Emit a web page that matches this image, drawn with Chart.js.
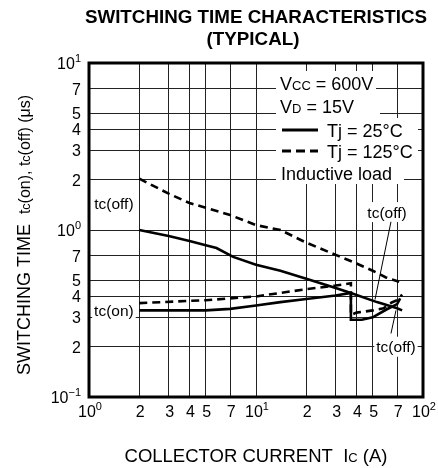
<!DOCTYPE html>
<html><head><meta charset="utf-8">
<script src="https://cdn.jsdelivr.net/npm/chart.js@4.4.1/dist/chart.umd.min.js"></script>
<style>html,body{margin:0;padding:0;background:#fff;}#wrap{width:438px;height:468px;}</style>
</head><body><div id="wrap"><canvas id="c" width="438" height="468"></canvas></div>
<script>
const FONT = '"Liberation Sans", Arial, Helvetica, sans-serif';

// Axis ticks
const xTicks = [1, 2, 3, 4, 5, 7, 10, 20, 30, 40, 50, 70, 100];
const xTickLabels = ['10^0', '2', '3', '4', '5', '7', '10^1', '2', '3', '4', '5', '7', '10^2'];
const yTicks = [0.1, 0.2, 0.3, 0.4, 0.5, 0.7, 1, 2, 3, 4, 5, 7, 10];
const yTickLabels = ['10^\u22121', '2', '3', '4', '5', '7', '10^0', '2', '3', '4', '5', '7', '10^1'];

// tc(off), Tj = 25°C (solid)
const offCurrent25 = [2, 3, 4, 5, 5.8, 7.3, 10, 14, 20, 30, 37, 53, 70, 75];
const offTime25 = [1.0, 0.92, 0.86, 0.81, 0.78, 0.69, 0.62, 0.57, 0.51, 0.45, 0.42, 0.37, 0.34, 0.33];
// tc(off), Tj = 125°C (dashed)
const offCurrent125 = [2, 3, 4, 5, 7, 10, 14, 20, 30, 40, 50, 60, 72];
const offTime125 = [2.03, 1.65, 1.45, 1.36, 1.23, 1.07, 1.0, 0.84, 0.71, 0.63, 0.57, 0.52, 0.49];
// tc(on), Tj = 25°C (solid)
const onCurrent25 = [2, 3, 5, 7, 10, 14, 20, 30, 37, 37, 43, 50, 60, 70, 73];
const onTime25 = [0.33, 0.33, 0.33, 0.337, 0.353, 0.37, 0.386, 0.405, 0.42, 0.29, 0.29, 0.30, 0.333, 0.36, 0.39];
// tc(on), Tj = 125°C (dashed)
const onCurrent125 = [2, 5, 10, 14, 20, 30, 37, 37, 40, 50, 58, 65, 70, 75];
const onTime125 = [0.365, 0.38, 0.40, 0.42, 0.442, 0.465, 0.48, 0.31, 0.32, 0.33, 0.34, 0.368, 0.38, 0.41];

// Curve annotations (data units)
const curveLabels = [
  {text: 'tc(off)', x: 1.41, y: 1.45},
  {text: 'tc(on)', x: 1.41, y: 0.33},
  {text: 'tc(off)', x: 60.9, y: 1.28},
  {text: 'tc(off)', x: 68.9, y: 0.20}
];
const leaderLines = [
  {x1: 64.3, y1: 1.12, x2: 51.6, y2: 0.383},
  {x1: 64.3, y1: 0.24, x2: 68.9, y2: 0.33}
];

function pts(xs, ys) { return xs.map((x, i) => ({x: x, y: ys[i]})); }

function setFont(ctx, size, weight) { ctx.font = (weight || 'normal') + ' ' + size + 'px ' + FONT; }
// parts: [text, size, dy, weight]
function drawParts(ctx, parts, x, y, align) {
  let total = 0;
  const ws = parts.map(p => { setFont(ctx, p[1], p[3]); const w = ctx.measureText(p[0]).width; total += w; return w; });
  let cx = align === 'center' ? x - total / 2 : (align === 'right' ? x - total : x);
  ctx.textAlign = 'left';
  ctx.textBaseline = 'alphabetic';
  parts.forEach((p, i) => { setFont(ctx, p[1], p[3]); ctx.fillText(p[0], cx, y + (p[2] || 0)); cx += ws[i]; });
  return total;
}
function labelParts(lbl, size, supSize) {
  if (lbl.indexOf('^') >= 0) {
    const [b, e] = lbl.split('^');
    return [[b, size, 0], [e, supSize, -7]];
  }
  return [[lbl, size, 0]];
}

const decor = {
  id: 'decor',
  afterDatasetsDraw(chart) {
    const ctx = chart.ctx, xs = chart.scales.x, ys = chart.scales.y;
    ctx.save();
    // legend blocks with white backgrounds
    const boxes = [[276, 71, 100, 24], [276, 95, 104, 23], [276, 118, 142, 23], [276, 141, 142, 21], [276, 162, 128, 22]];
    ctx.fillStyle = '#fff';
    boxes.forEach(b => ctx.fillRect(b[0], b[1], b[2], b[3]));
    ctx.fillStyle = '#000';
    drawParts(ctx, [['V', 18], ['CC', 13], [' = 600V', 18]], 280, 89.5, 'left');
    drawParts(ctx, [['V', 18], ['D', 13], [' = 15V', 18]], 280, 112.5, 'left');
    ctx.strokeStyle = '#000';
    ctx.lineWidth = 3;
    ctx.beginPath(); ctx.moveTo(282, 130); ctx.lineTo(318, 130); ctx.stroke();
    ctx.setLineDash([9, 5]);
    ctx.beginPath(); ctx.moveTo(282, 151); ctx.lineTo(318, 151); ctx.stroke();
    ctx.setLineDash([]);
    drawParts(ctx, [['Tj = 25\u00B0C', 18]], 327, 136.5, 'left');
    drawParts(ctx, [['Tj = 125\u00B0C', 18]], 327, 157.5, 'left');
    drawParts(ctx, [['Inductive load', 18]], 281, 179.5, 'left');

    // curve labels
    curveLabels.forEach(l => {
      const px = xs.getPixelForValue(l.x), py = ys.getPixelForValue(l.y);
      setFont(ctx, 15.5);
      const w = ctx.measureText(l.text).width;
      ctx.fillStyle = '#fff';
      ctx.fillRect(px - w / 2 - 2, py - 10, w + 4, 20);
      ctx.fillStyle = '#000';
      drawParts(ctx, [[l.text, 15.5]], px, py + 5.5, 'center');
    });
    ctx.strokeStyle = '#000';
    ctx.lineWidth = 1;
    leaderLines.forEach(a => {
      ctx.beginPath();
      ctx.moveTo(xs.getPixelForValue(a.x1), ys.getPixelForValue(a.y1));
      ctx.lineTo(xs.getPixelForValue(a.x2), ys.getPixelForValue(a.y2));
      ctx.stroke();
    });
    ctx.restore();
  },
  afterDraw(chart) {
    const ctx = chart.ctx, a = chart.chartArea, xs = chart.scales.x, ys = chart.scales.y;
    ctx.save();
    ctx.strokeStyle = '#000';
    ctx.lineWidth = 3;
    ctx.strokeRect(a.left, a.top, a.right - a.left, a.bottom - a.top);
    ctx.fillStyle = '#000';
    // tick labels
    xTicks.forEach((v, i) => {
      drawParts(ctx, labelParts(xTickLabels[i], 16, 11), xs.getPixelForValue(v) + 1, a.bottom + 20, 'center');
    });
    yTicks.forEach((v, i) => {
      drawParts(ctx, labelParts(yTickLabels[i], 16, 11), a.left - 8, ys.getPixelForValue(v) + 6, 'right');
    });
    // title
    drawParts(ctx, [['SWITCHING TIME CHARACTERISTICS', 18.8, 0, 'bold']], 256, 23, 'center');
    drawParts(ctx, [['(TYPICAL)', 18.8, 0, 'bold']], 253, 44.5, 'center');
    // x title
    drawParts(ctx, [['COLLECTOR CURRENT  I', 18.5], ['C', 13], [' (A)', 18.5]], 256, 462, 'center');
    // y title
    ctx.translate(30, 235);
    ctx.rotate(-Math.PI / 2);
    drawParts(ctx, [['SWITCHING TIME  ', 18], ['t', 16], ['c', 12.5], ['(on), t', 16], ['c', 12.5], ['(off) (\u03BCs)', 16]], 0, 0, 'center');
    ctx.restore();
  }
};

function ds(xs, ys, dashed) {
  return {
    data: pts(xs, ys), showLine: true, borderColor: '#000', borderWidth: 2.6,
    borderDash: dashed ? [8, 5] : [], pointRadius: 0, tension: 0, fill: false
  };
}

new Chart(document.getElementById('c'), {
  type: 'scatter',
  data: {
    datasets: [
      ds(offCurrent25, offTime25, false),
      ds(offCurrent125, offTime125, true),
      ds(onCurrent25, onTime25, false),
      ds(onCurrent125, onTime125, true)
    ]
  },
  options: {
    responsive: false, animation: false,
    layout: {padding: {left: 89, right: 15, top: 63, bottom: 71}},
    plugins: {legend: {display: false}, title: {display: false}, tooltip: {enabled: false}},
    scales: {
      x: {
        type: 'logarithmic', min: 1, max: 100,
        afterBuildTicks: s => { s.ticks = xTicks.map(v => ({value: v})); },
        afterFit: s => { s.height = 0; },
        ticks: {display: false},
        grid: {color: '#222', lineWidth: 1, drawTicks: false},
        border: {display: false}
      },
      y: {
        type: 'logarithmic', min: 0.1, max: 10,
        afterBuildTicks: s => { s.ticks = yTicks.map(v => ({value: v})); },
        afterFit: s => { s.width = 0; },
        ticks: {display: false},
        grid: {color: '#222', lineWidth: 1, drawTicks: false},
        border: {display: false}
      }
    }
  },
  plugins: [decor]
});
</script>
</body></html>
